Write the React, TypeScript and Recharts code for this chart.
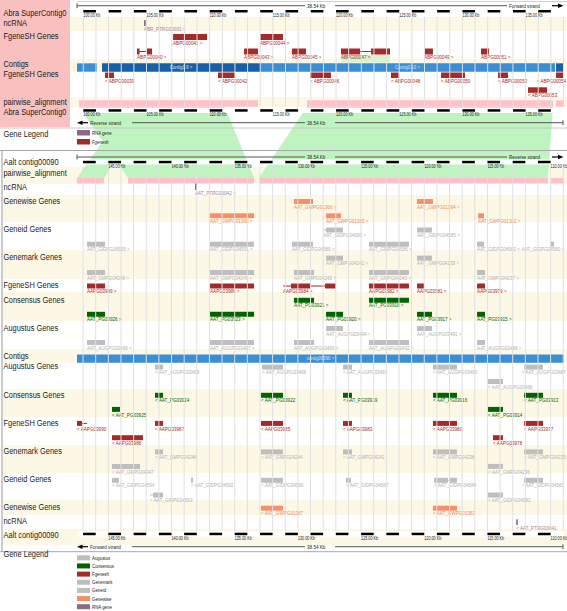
import React from 'react';
import { ComposedChart, XAxis, YAxis, Area, ReferenceArea, ReferenceLine } from 'recharts';

type Gene = { id: string; exons: number[][]; span?: number[] };

// ---------- Abra SuperContig0 (top panel, kb, forward strand) ----------
const abraNcRna: Gene[] = [{ id: 'ABR_PTRG00001', exons: [[104.8, 104.93]] }];
const abraFgeneFwd1: Gene[] = [
  { id: 'ABPG00041', exons: [[107.1, 109.79]] },
  { id: 'ABPG00044', exons: [[113.98, 115.8]] },
];
const abraFgeneFwd2: Gene[] = [
  { id: 'ABPG00040', span: [104.25, 105.44], exons: [[104.25, 104.45], [104.96, 105.44]] },
  { id: 'ABPG00043', exons: [[112.72, 113.82]] },
  { id: 'ABPG00045', exons: [[116.51, 117.62]] },
  { id: 'ABPG00047', span: [120.39, 124.27], exons: [[120.39, 121.9], [122.77, 124.27]] },
  { id: 'ABPG00049', exons: [[126.96, 127.67]] },
  { id: 'ABPG00051', exons: [[131.47, 132.11]] },
];
const abraFgeneRev1: Gene[] = [
  { id: 'ABPG00039', exons: [[101.72, 102.43]] },
  { id: 'ABPG00042', exons: [[110.66, 112.0]] },
  { id: 'ABPG00046', exons: [[117.94, 119.6]] },
  { id: 'ABPG00048', exons: [[124.35, 124.95]] },
  { id: 'ABPG00050', exons: [[128.31, 130.21]] },
  { id: 'ABPG00052', exons: [[132.82, 133.61]] },
  { id: 'ABPG00054', exons: [[137.41, 138.04]] },
];
const abraFgeneRev2: Gene[] = [{ id: 'ABPG00053', exons: [[135.19, 136.7]] }];
const abraHighlighted = ['ABPG00047'];
const abraContigs = [
  { id: '', range: [99.5, 101.08] },
  { id: 'Contig0.9', range: [101.48, 113.98] },
  { id: 'Contig0.10', range: [113.98, 137.33] },
  { id: '', range: [137.41, 138.04] },
];
const abraAlign = [[99.66, 110.66], [110.66, 113.82], [117.7, 137.17], [137.41, 138.04]];
const abraTicks = [100, 105, 110, 115, 120, 125, 130, 135];

// ---------- Aalt contig00090 (bottom panel, kb, shown reversed) ----------
const aaltNcRnaFwd: Gene[] = [{ id: 'AAT_PTRG00042', exons: [[138.14, 137.99]] }];
const aaltGenewiseFwd1: Gene[] = [
  { id: 'AAT_GWPG01366', exons: [[130.31, 128.8]] },
  { id: 'AAT_GWPG01364', exons: [[120.57, 119.31]] },
];
const aaltGenewiseFwd2: Gene[] = [
  { id: 'AAT_GWPG01368', exons: [[136.95, 133.47]] },
  { id: 'AAT_GWPG01365', exons: [[127.77, 126.59]] },
  { id: 'AAT_GWPG01362', exons: [[115.74, 115.27]] },
];
const aaltGeneidFwd1: Gene[] = [
  { id: 'AAT_GIDPG04588', span: [127.99, 126.43], exons: [[127.77, 126.43]] },
  { id: 'AAT_GIDPG04585', exons: [[120.57, 119.39]] },
];
const aaltGeneidFwd2: Gene[] = [
  { id: 'AAT_GIDPG04595', exons: [[146.69, 145.26]] },
  { id: 'AAT_GIDPG04591', exons: [[136.95, 133.47]] },
  { id: 'AAT_GIDPG04589', exons: [[130.47, 128.8]] },
  { id: 'AAT_GIDPG04586', exons: [[124.37, 121.21]] },
  { id: 'AAT_GIDPG04583', exons: [[115.82, 115.27]] },
  { id: 'AAT_GIDPG04580', exons: [[110.05, 109.73]] },
];
const aaltGenemarkFwd1: Gene[] = [
  { id: 'AAT_GMPG04242', exons: [[127.77, 126.43]] },
  { id: 'AAT_GMPG04239', exons: [[120.57, 119.39]] },
];
const aaltGenemarkFwd2: Gene[] = [
  { id: 'AAT_GMPG04248', exons: [[146.69, 145.26]] },
  { id: 'AAT_GMPG04245', exons: [[136.95, 133.47]] },
  { id: 'AAT_GMPG04243', exons: [[130.31, 128.72]] },
  { id: 'AAT_GMPG04240', exons: [[124.37, 121.21]] },
  { id: 'AAT_GMPG04237', exons: [[115.82, 115.19]] },
];
const aaltFgeneFwd: Gene[] = [
  { id: 'AAPG03989', exons: [[146.69, 145.26]] },
  { id: 'AAPG03986', exons: [[136.95, 133.47]] },
  { id: 'AAPG03984', span: [131.18, 126.98], exons: [[130.54, 128.96], [127.85, 126.98]] },
  { id: 'AAPG03982', exons: [[124.37, 121.21]] },
  { id: 'AAPG03981', exons: [[120.57, 120.02]] },
  { id: 'AAPG03979', exons: [[115.82, 115.19]] },
];
const aaltConsensusFwd1: Gene[] = [
  { id: 'AAT_PG03921', exons: [[130.31, 128.72]] },
  { id: 'AAT_PG03918', exons: [[124.37, 121.21]] },
];
const aaltConsensusFwd2: Gene[] = [
  { id: 'AAT_PG03926', exons: [[146.69, 145.26]] },
  { id: 'AAT_PG03923', exons: [[136.95, 133.47]] },
  { id: 'AAT_PG03920', exons: [[127.77, 126.43]] },
  { id: 'AAT_PG03917', exons: [[120.57, 119.39]] },
  { id: 'AAT_PG03915', exons: [[115.82, 115.19]] },
];
const aaltAugustusFwd1: Gene[] = [
  { id: 'AAT_AUGPG03494', exons: [[127.77, 126.43]] },
  { id: 'AAT_AUGPG03491', exons: [[120.57, 119.39]] },
];
const aaltAugustusFwd2: Gene[] = [
  { id: 'AAT_AUGPG03499', exons: [[146.69, 145.26]] },
  { id: 'AAT_AUGPG03497', exons: [[136.95, 133.47]] },
  { id: 'AAT_AUGPG03495', exons: [[130.31, 128.72]] },
  { id: 'AAT_AUGPG03492', exons: [[124.37, 121.21]] },
  { id: 'AAT_AUGPG03489', exons: [[115.82, 115.19]] },
];
const aaltContigs = [{ id: 'contig00090', range: [147.48, 108.94] }];
const aaltAugustusRev1: Gene[] = [
  { id: 'AAT_AUGPG03498', exons: [[141.31, 140.67]] },
  { id: 'AAT_AUGPG03496', exons: [[132.84, 131.18]] },
  { id: 'AAT_AUGPG03493', exons: [[126.43, 125.72]] },
  { id: 'AAT_AUGPG03490', exons: [[119.31, 117.41]] },
  { id: 'AAT_AUGPG03487', exons: [[112.1, 110.6]] },
];
const aaltAugustusRev2: Gene[] = [{ id: 'AAT_AUGPG03488', exons: [[114.95, 113.77]] }];
const aaltConsensusRev1: Gene[] = [
  { id: 'AAT_PG03924', exons: [[141.31, 140.67]] },
  { id: 'AAT_PG03922', exons: [[132.92, 131.18]] },
  { id: 'AAT_PG03919', exons: [[126.43, 125.72]] },
  { id: 'AAT_PG03916', exons: [[119.31, 117.41]] },
  { id: 'AAT_PG03913', exons: [[112.1, 110.6]] },
];
const aaltConsensusRev2: Gene[] = [
  { id: 'AAT_PG03925', exons: [[144.71, 144.08]] },
  { id: 'AAT_PG03914', exons: [[114.95, 113.77]] },
];
const aaltFgeneRev1: Gene[] = [
  { id: 'AAPG03990', span: [147.48, 146.69], exons: [[147.48, 147.08]] },
  { id: 'AAPG03987', exons: [[141.31, 140.67]] },
  { id: 'AAPG03985', exons: [[132.92, 131.18]] },
  { id: 'AAPG03983', exons: [[126.43, 125.72]] },
  { id: 'AAPG03980', exons: [[119.31, 117.41]] },
  { id: 'AAPG03977', exons: [[112.1, 110.6]] },
];
const aaltFgeneRev2: Gene[] = [
  { id: 'AAPG03988', exons: [[144.71, 142.26]] },
  { id: 'AAPG03978', exons: [[114.56, 113.77]] },
];
const aaltGenemarkRev1: Gene[] = [
  { id: 'AAT_GMPG04246', exons: [[141.31, 140.67]] },
  { id: 'AAT_GMPG04244', exons: [[132.92, 131.18]] },
  { id: 'AAT_GMPG04241', exons: [[126.43, 125.72]] },
  { id: 'AAT_GMPG04238', exons: [[119.31, 117.41]] },
  { id: 'AAT_GMPG04235', exons: [[112.1, 110.6]] },
];
const aaltGenemarkRev2: Gene[] = [
  { id: 'AAT_GMPG04247', exons: [[144.71, 142.49]] },
  { id: 'AAT_GMPG04236', exons: [[114.95, 113.77]] },
];
const aaltGeneidRev1: Gene[] = [
  { id: 'AAT_GIDPG04594', exons: [[144.71, 144.16]] },
  { id: 'AAT_GIDPG04592', exons: [[138.46, 138.3]] },
  { id: 'AAT_GIDPG04590', exons: [[132.92, 131.18]] },
  { id: 'AAT_GIDPG04587', exons: [[126.19, 125.8]] },
  { id: 'AAT_GIDPG04584', exons: [[119.23, 118.12], [118.04, 117.41]] },
  { id: 'AAT_GIDPG04581', exons: [[112.1, 110.6]] },
];
const aaltGeneidRev2: Gene[] = [
  { id: 'AAT_GIDPG04593', span: [141.7, 140.67], exons: [[141.46, 140.67]] },
  { id: 'AAT_GIDPG04582', exons: [[114.95, 113.77]] },
];
const aaltGenewiseRev1: Gene[] = [
  { id: 'AAT_GWPG01367', exons: [[132.92, 131.18]] },
  { id: 'AAT_GWPG01363', exons: [[119.31, 117.41]] },
];
const aaltNcRnaRev: Gene[] = [{ id: 'AAT_PTRG00041', exons: [[112.72, 112.6]] }];
const aaltAlign = [[147.48, 145.34], [143.44, 133.47], [133.08, 110.21], [109.97, 108.94]];
const aaltTicks = [145, 140, 135, 130, 125, 120, 115, 110];

// synteny blocks (Abra range -> Aalt range)
const synAbra = [[99.66, 111.2], [103.46, 105.28], [117.7, 137.17]];
const synAalt = [[143.44, 133.47], [147.48, 145.34], [133.08, 110.21]];

const topLegend = ['RNA gene', 'Fgenesh'];
const bottomLegend = ['Augustus', 'Consensus', 'Fgenesh', 'Genemark', 'Geneid', 'Genewise', 'RNA gene'];

// ---------- layout & style ----------
const W = 567;
const H = 611;
const PLOT_LEFT = 77;
const PLOT_RIGHT = 564;
const TOP_DOMAIN = [99.5, 138.04];
const BOT_DOMAIN = [108.94, 147.48];
const SYN_Y = [106.7, 178];
const SX = 0.78;
const FONT = '"Liberation Sans", Arial, Helvetica, sans-serif';
const GENE_FONT = 5.9;

const KIND: Record<string, { box: string; text: string }> = {
  fgenesh: { box: '#a52a2a', text: '#a52a2a' },
  consensus: { box: '#006400', text: '#006400' },
  grey: { box: '#bebebe', text: '#b0b0b0' },
  genewise: { box: '#f4916a', text: '#ef8660' },
  rna: { box: '#8b6a83', text: '#9c8496' },
};
const LEGEND_COLOR: Record<string, string> = {
  Augustus: '#bebebe', Consensus: '#006400', Fgenesh: '#a52a2a', Genemark: '#bebebe',
  Geneid: '#bebebe', Genewise: '#f4916a', 'RNA gene': '#8b6a83',
};

const tracks = [
  { genes: abraNcRna, axis: 'top', y: 20, h: 6, kind: 'rna', dir: 1 },
  { genes: abraFgeneFwd1, axis: 'top', y: 34, h: 6, kind: 'fgenesh', dir: 1 },
  { genes: abraFgeneFwd2, axis: 'top', y: 48.5, h: 6, kind: 'fgenesh', dir: 1 },
  { genes: abraFgeneRev1, axis: 'top', y: 72.5, h: 5.5, kind: 'fgenesh', dir: -1 },
  { genes: abraFgeneRev2, axis: 'top', y: 87.3, h: 5.5, kind: 'fgenesh', dir: -1 },
  { genes: aaltNcRnaFwd, axis: 'bot', y: 183.5, h: 6.5, kind: 'rna', dir: 1 },
  { genes: aaltGenewiseFwd1, axis: 'bot', y: 199, h: 5, kind: 'genewise', dir: 1 },
  { genes: aaltGenewiseFwd2, axis: 'bot', y: 213.3, h: 5, kind: 'genewise', dir: 1 },
  { genes: aaltGeneidFwd1, axis: 'bot', y: 227.5, h: 5, kind: 'grey', dir: 1 },
  { genes: aaltGeneidFwd2, axis: 'bot', y: 241.7, h: 5, kind: 'grey', dir: 1 },
  { genes: aaltGenemarkFwd1, axis: 'bot', y: 255.6, h: 5, kind: 'grey', dir: 1 },
  { genes: aaltGenemarkFwd2, axis: 'bot', y: 270, h: 5, kind: 'grey', dir: 1 },
  { genes: aaltFgeneFwd, axis: 'bot', y: 283.5, h: 5, kind: 'fgenesh', dir: 1 },
  { genes: aaltConsensusFwd1, axis: 'bot', y: 297.8, h: 5, kind: 'consensus', dir: 1 },
  { genes: aaltConsensusFwd2, axis: 'bot', y: 311.8, h: 5, kind: 'consensus', dir: 1 },
  { genes: aaltAugustusFwd1, axis: 'bot', y: 326, h: 5, kind: 'grey', dir: 1 },
  { genes: aaltAugustusFwd2, axis: 'bot', y: 340, h: 5, kind: 'grey', dir: 1 },
  { genes: aaltAugustusRev1, axis: 'bot', y: 364.6, h: 5, kind: 'grey', dir: -1 },
  { genes: aaltAugustusRev2, axis: 'bot', y: 379, h: 5, kind: 'grey', dir: -1 },
  { genes: aaltConsensusRev1, axis: 'bot', y: 392.8, h: 5, kind: 'consensus', dir: -1 },
  { genes: aaltConsensusRev2, axis: 'bot', y: 406.9, h: 5, kind: 'consensus', dir: -1 },
  { genes: aaltFgeneRev1, axis: 'bot', y: 420.9, h: 5, kind: 'fgenesh', dir: -1 },
  { genes: aaltFgeneRev2, axis: 'bot', y: 435.2, h: 5, kind: 'fgenesh', dir: -1 },
  { genes: aaltGenemarkRev1, axis: 'bot', y: 449.4, h: 5, kind: 'grey', dir: -1 },
  { genes: aaltGenemarkRev2, axis: 'bot', y: 463.9, h: 5, kind: 'grey', dir: -1 },
  { genes: aaltGeneidRev1, axis: 'bot', y: 477.8, h: 5, kind: 'grey', dir: -1 },
  { genes: aaltGeneidRev2, axis: 'bot', y: 492.5, h: 5, kind: 'grey', dir: -1 },
  { genes: aaltGenewiseRev1, axis: 'bot', y: 505.7, h: 5, kind: 'genewise', dir: -1 },
  { genes: aaltNcRnaRev, axis: 'bot', y: 519.3, h: 6, kind: 'rna', dir: -1 },
];

const trackLabels = [
  ['Abra SuperContig0', 12.3], ['ncRNA', 22.3], ['FgeneSH Genes', 35.7], ['Contigs', 63.3],
  ['FgeneSH Genes', 74], ['pairwise_alignment', 101.7], ['Abra SuperContig0', 111.7], ['Gene Legend', 133.3],
  ['Aalt contig00090', 162], ['pairwise_alignment', 172.3], ['ncRNA', 186.7], ['Genewise Genes', 200.7],
  ['Geneid Genes', 229], ['Genemark Genes', 256.7], ['FgeneSH Genes', 285], ['Consensus Genes', 299.3],
  ['Augustus Genes', 327.3], ['Contigs', 355.7], ['Augustus Genes', 365.7], ['Consensus Genes', 394.3],
  ['FgeneSH Genes', 422.3], ['Genemark Genes', 450.7], ['Geneid Genes', 479], ['Genewise Genes', 506.7],
  ['ncRNA', 521], ['Aalt contig00090', 535], ['Gene Legend', 554],
] as [string, number][];

const topStripes = [[17, 31], [59, 72], [97, 107]];
const botStripes = [[167, 184], [195, 222], [250, 279], [292, 321], [349, 363], [389, 417], [445, 473], [500, 515], [529, 545]];

const charW = (c: string) =>
  c === ' ' ? 0.278 : c === '<' || c === '>' ? 0.584 : c === 'W' ? 0.944 : /[0-9_]/.test(c) ? 0.556 : /[A-Z]/.test(c) ? 0.68 : 0.5;
const textWidth = (s: string, size: number) => [...s].reduce((a, c) => a + charW(c), 0) * size * SX;

const SText = ({ x, y, size, fill = '#000', anchor = 'start', children }: any) => (
  <text transform={`translate(${x},${y}) scale(${SX},1)`} fontSize={size} fill={fill} fontFamily={FONT} textAnchor={anchor}>
    {children}
  </text>
);

const GeneLabel = ({ viewBox, text, color, baseline }: any) => {
  if (!viewBox) return null;
  const x = Math.min(viewBox.x, W - 1 - textWidth(text, GENE_FONT));
  return <SText x={x} y={baseline} size={GENE_FONT} fill={color}>{text}</SText>;
};

const PlainLabel = ({ viewBox, text, baseline, size, color = '#000', center }: any) => {
  if (!viewBox) return null;
  const x = center ? viewBox.x + viewBox.width / 2 : viewBox.x;
  return <SText x={x} y={baseline} size={size} fill={color} anchor={center ? 'middle' : 'start'}>{text}</SText>;
};

const spanOf = (g: Gene) => {
  if (g.span) return g.span;
  const all = g.exons.flat();
  return [Math.min(...all), Math.max(...all)];
};

function geneMarks() {
  const out: React.ReactNode[] = [];
  tracks.forEach((t, ti) => {
    const col = KIND[t.kind];
    t.genes.forEach((g, gi) => {
      const [a, b] = spanOf(g);
      const mid = t.y + t.h / 2;
      const text = t.dir > 0 ? `${g.id} >` : `< ${g.id}`;
      if (abraHighlighted.includes(g.id)) {
        out.push(
          <ReferenceArea key={`hl${ti}-${gi}`} xAxisId={t.axis} x1={a} x2={b} y1={t.y + t.h + 0.5} y2={t.y + t.h + 8}
            fill="#d6f5cc" fillOpacity={1} stroke="none" ifOverflow="visible" />
        );
      }
      out.push(
        <ReferenceArea key={`s${ti}-${gi}`} xAxisId={t.axis} x1={a} x2={b} y1={mid - 0.5} y2={mid + 0.5}
          fill={col.box} fillOpacity={1} stroke="none" ifOverflow="visible"
          label={<GeneLabel text={text} color={col.text} baseline={t.y + t.h + 4.6} />} />
      );
      g.exons.forEach((e, ei) =>
        out.push(
          <ReferenceArea key={`e${ti}-${gi}-${ei}`} xAxisId={t.axis} x1={e[0]} x2={e[1]} y1={t.y} y2={t.y + t.h}
            fill={col.box} fillOpacity={1} stroke="none" ifOverflow="visible" />
        )
      );
    });
  });
  return out;
}

function ruler(axis: string, domain: number[], ticks: number[], y: number, reversed: boolean) {
  const out: React.ReactNode[] = [];
  out.push(
    <ReferenceArea key={`rb${axis}${y}`} xAxisId={axis} x1={domain[0]} x2={domain[1]} y1={y - 1.3} y2={y + 3.8}
      fill="#fff" fillOpacity={1} stroke="none" ifOverflow="visible" />
  );
  for (let n = Math.ceil(domain[0]); n + 1 <= domain[1]; n++) {
    if (n % 2 !== 0) continue;
    out.push(
      <ReferenceArea key={`r${axis}${y}-${n}`} xAxisId={axis} x1={n} x2={n + 1} y1={y} y2={y + 2.5}
        fill="#000" fillOpacity={1} stroke="none" ifOverflow="visible" />
    );
  }
  ticks.forEach((tk) =>
    out.push(
      <ReferenceArea key={`rt${axis}${y}-${tk}`} xAxisId={axis} x1={tk} x2={tk + (reversed ? -0.01 : 0.01)} y1={y} y2={y + 2.5}
        fill="none" stroke="none" ifOverflow="visible"
        label={<PlainLabel text={`${tk.toFixed(2)} Kb`} baseline={y + 6.8} size={4.8} color="#222" />} />
    )
  );
  return out;
}

function grid(axis: string, domain: number[], y0: number, y1: number) {
  const out: React.ReactNode[] = [];
  for (let n = Math.ceil(domain[0]); n <= domain[1]; n++) {
    out.push(
      <ReferenceLine key={`g${axis}-${n}`} xAxisId={axis} segment={[{ x: n, y: y0 }, { x: n, y: y1 }]}
        stroke="#e0e0e0" strokeWidth={1} ifOverflow="visible" />
    );
  }
  return out;
}

function bars(axis: string, ranges: number[][], y: number, h: number) {
  return ranges.map((r, i) => (
    <ReferenceArea key={`pa${axis}-${i}`} xAxisId={axis} x1={r[0]} x2={r[1]} y1={y} y2={y + h}
      fill="#ffc0cb" fillOpacity={1} stroke="none" ifOverflow="visible" />
  ));
}

function contigs(axis: string, list: { id: string; range: number[] }[], y: number, h: number, dir: number) {
  return list.map((c, i) => (
    <ReferenceArea key={`c${axis}-${i}`} xAxisId={axis} x1={c.range[0]} x2={c.range[1]} y1={y} y2={y + h}
      fill={i % 2 === 0 ? '#3a8ed6' : '#1560a8'} fillOpacity={1} stroke="none" ifOverflow="visible"
      label={c.id ? <PlainLabel text={dir > 0 ? `${c.id} >` : `< ${c.id}`} baseline={y + h / 2 + 1.8} size={5.6} color="#dce9f7" center /> : undefined} />
  ));
}

// top-equivalent coordinate of an Aalt position (both panels share the px/kb scale)
const toTop = (v: number) => TOP_DOMAIN[0] + (BOT_DOMAIN[1] - v);
const synteny = SYN_Y.map((y, row) => {
  const rec: Record<string, any> = { y };
  synAbra.forEach((a, li) => {
    rec[`l${li}`] = row === 0 ? a : [toTop(synAalt[li][0]), toTop(synAalt[li][1])];
  });
  return rec;
});

function StrandBar({ y, label, rightArrow }: { y: number; label: string; rightArrow: boolean }) {
  const c = '#555';
  if (rightArrow) {
    return (
      <g>
        <line x1={PLOT_LEFT} x2={PLOT_LEFT} y1={y - 2.5} y2={y + 2.5} stroke={c} />
        <line x1={PLOT_LEFT} x2={305} y1={y} y2={y} stroke={c} />
        <SText x={307} y={y + 2} size={5.9} fill="#222">38.54 Kb</SText>
        <line x1={335} x2={507} y1={y} y2={y} stroke={c} />
        <SText x={509} y={y + 2} size={5.9} fill="#222">{label}</SText>
        <line x1={552} x2={560} y1={y} y2={y} stroke="#000" strokeWidth={1.2} />
        <polygon points={`${558},${y - 2.2} ${563.5},${y} ${558},${y + 2.2}`} fill="#000" />
      </g>
    );
  }
  return (
    <g>
      <polygon points={`${77},${y} ${82.5},${y - 2.2} ${82.5},${y + 2.2}`} fill="#000" />
      <line x1={80} x2={88} y1={y} y2={y} stroke="#000" strokeWidth={1.2} />
      <SText x={90} y={y + 2} size={5.9} fill="#222">{label}</SText>
      <line x1={132} x2={305} y1={y} y2={y} stroke={c} />
      <SText x={307} y={y + 2} size={5.9} fill="#222">38.54 Kb</SText>
      <line x1={335} x2={PLOT_RIGHT - 1} y1={y} y2={y} stroke={c} />
      <line x1={PLOT_RIGHT - 1} x2={PLOT_RIGHT - 1} y1={y - 2.5} y2={y + 2.5} stroke={c} />
    </g>
  );
}

export default function App() {
  return (
    <div style={{ position: 'absolute', left: 0, top: 0, width: W, height: H, background: '#fff', overflow: 'hidden' }}>
      <svg width={W} height={H} style={{ position: 'absolute', left: 0, top: 0 }}>
        <rect x={0} y={0} width={70} height={127} fill="#f9c0c0" />
        {topStripes.map(([a, b], i) => <rect key={`ts${i}`} x={70} y={a} width={W - 70} height={b - a} fill="#fdf8e6" />)}
        {botStripes.map(([a, b], i) => <rect key={`bs${i}`} x={3} y={a} width={W - 3} height={b - a} fill="#fdf8e6" />)}
      </svg>
      <div style={{ position: 'absolute', left: 0, top: 0 }}>
        <ComposedChart width={W} height={H} layout="vertical" data={synteny}
          margin={{ top: 0, right: W - PLOT_RIGHT, bottom: 0, left: PLOT_LEFT }}>
          <XAxis xAxisId="top" type="number" domain={TOP_DOMAIN} allowDataOverflow hide />
          <XAxis xAxisId="bot" type="number" domain={BOT_DOMAIN} allowDataOverflow reversed hide />
          <YAxis type="number" dataKey="y" domain={[0, H]} allowDataOverflow hide />
          {grid('top', TOP_DOMAIN, 17, 106.7)}
          {grid('bot', BOT_DOMAIN, 166, 531)}
          {synAbra.map((_, li) => (
            <Area key={`syn${li}`} xAxisId="top" dataKey={`l${li}`} type="linear" fill="#bff3bf" fillOpacity={1}
              stroke="none" dot={false} activeDot={false} isAnimationActive={false} />
          ))}
          {bars('top', abraAlign, 100.3, 6.4)}
          {bars('bot', aaltAlign, 178, 5.5)}
          {ruler('top', TOP_DOMAIN, abraTicks, 10, false)}
          {ruler('top', TOP_DOMAIN, abraTicks, 109.2, false)}
          {ruler('bot', BOT_DOMAIN, aaltTicks, 160.8, true)}
          {ruler('bot', BOT_DOMAIN, aaltTicks, 532.7, true)}
          {contigs('top', abraContigs, 63.3, 8.4, 1)}
          {contigs('bot', aaltContigs, 354.5, 8.3, 1)}
          {geneMarks()}
        </ComposedChart>
      </div>
      <svg width={W} height={H} style={{ position: 'absolute', left: 0, top: 0, pointerEvents: 'none' }}>
        <line x1={PLOT_LEFT} x2={W} y1={1.5} y2={1.5} stroke="#d0d0d0" />
        <line x1={0} x2={W} y1={128} y2={128} stroke="#c8c8c8" />
        <line x1={0} x2={W} y1={150.5} y2={150.5} stroke="#a8a8a8" />
        <line x1={0} x2={W} y1={551.7} y2={551.7} stroke="#a8a8a8" />
        <line x1={2} x2={2} y1={150.5} y2={551.7} stroke="#999" />
        <StrandBar y={5.7} label="Forward strand" rightArrow />
        <StrandBar y={122.7} label="Reverse strand" rightArrow={false} />
        <StrandBar y={157} label="Reverse strand" rightArrow />
        <StrandBar y={546.7} label="Forward strand" rightArrow={false} />
        {trackLabels.map(([t, y], i) => (
          <SText key={`tl${i}`} x={3.5} y={y + 3.3} size={9.5} fill="#1a1a1a">{t}</SText>
        ))}
        {topLegend.map((name, i) => (
          <g key={`tg${i}`}>
            <rect x={77} y={130 + i * 9} width={13} height={5.5} fill={LEGEND_COLOR[name]} />
            <SText x={92} y={134.6 + i * 9} size={5.5} fill="#222">{name}</SText>
          </g>
        ))}
        {bottomLegend.map((name, i) => (
          <g key={`bg${i}`}>
            <rect x={77} y={555.3 + i * 8.15} width={13} height={5} fill={LEGEND_COLOR[name]} />
            <SText x={92} y={559.8 + i * 8.15} size={5.6} fill="#222">{name}</SText>
          </g>
        ))}
      </svg>
    </div>
  );
}
